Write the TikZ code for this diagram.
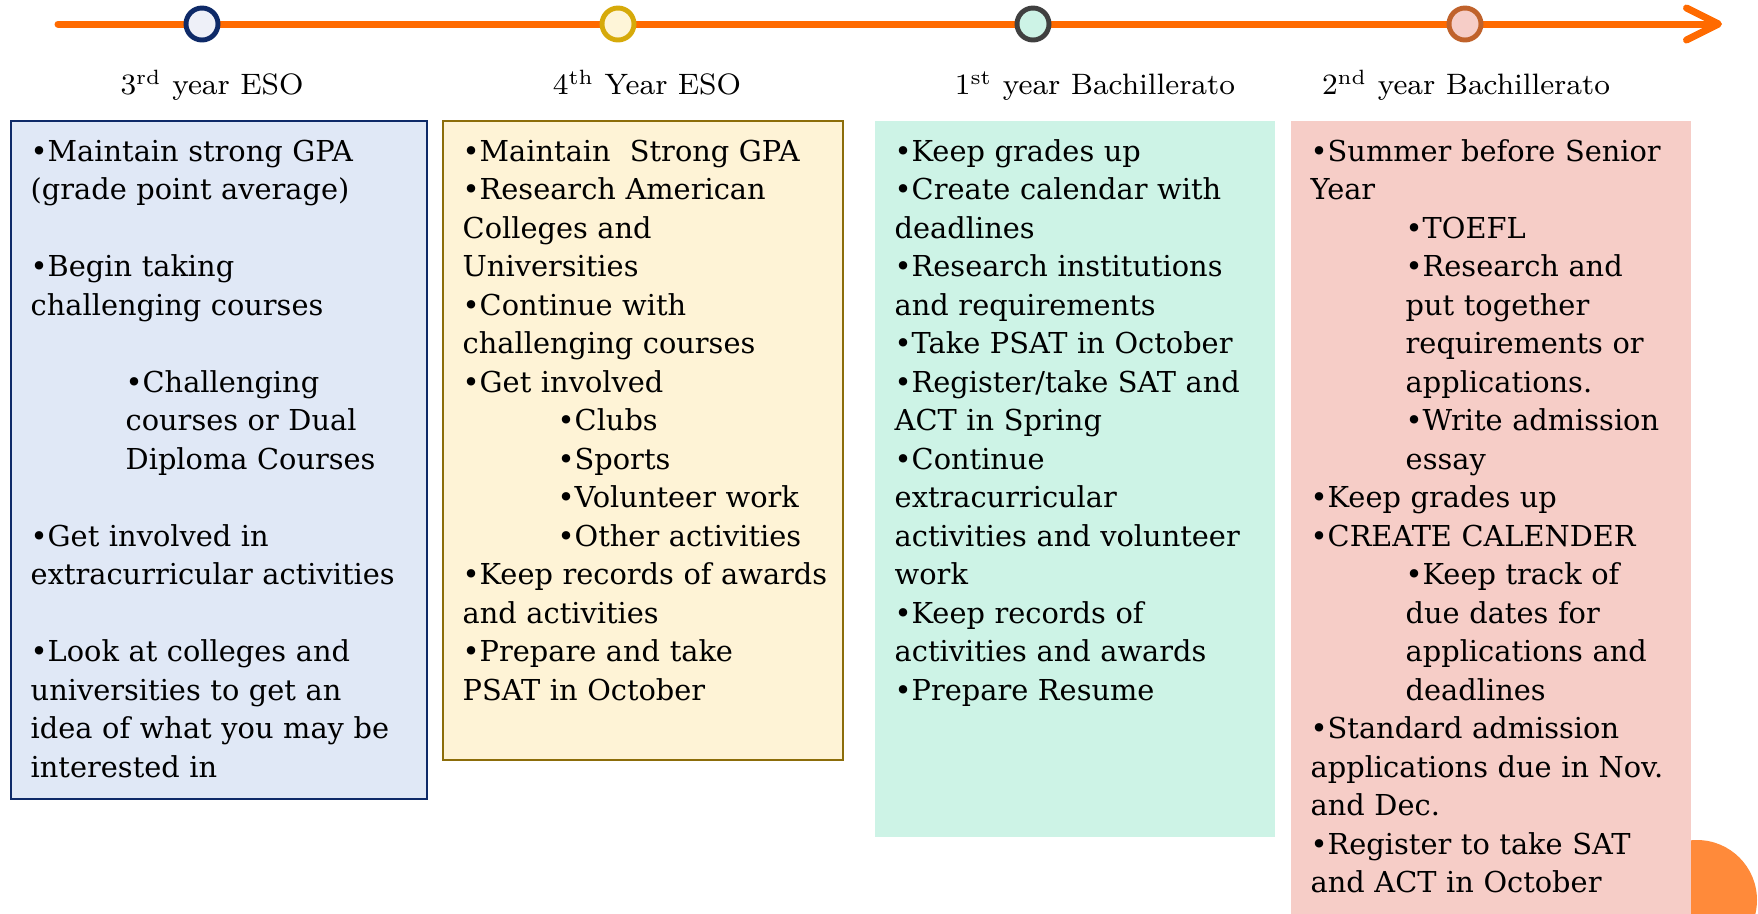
\documentclass[tikz,border=0pt]{standalone}
\usepackage{fontspec}
\newfontfamily\cuerpo{DejaVu Serif}
\usepackage{tikz}
\usetikzlibrary{arrows.meta}

\definecolor{naranja}{HTML}{FF6A00}
\definecolor{mancha}{HTML}{FF8A3A}
\definecolor{azulborde}{HTML}{0E2A68}
\definecolor{azulhito}{HTML}{EEF0F8}
\definecolor{azulcaja}{HTML}{E0E8F6}
\definecolor{oroborde}{HTML}{D6AA0A}
\definecolor{orohito}{HTML}{FEF5D8}
\definecolor{orocaja}{HTML}{FEF3D6}
\definecolor{orolinea}{HTML}{8C6D0A}
\definecolor{grisborde}{HTML}{404040}
\definecolor{mentacaja}{HTML}{CDF3E6}
\definecolor{cobreborde}{HTML}{C0622B}
\definecolor{rosacaja}{HTML}{F6CDC7}

\begin{document}
\begin{tikzpicture}[x=0.1mm, y=-0.1mm,
  linea/.style={line width=0.7mm, naranja, line cap=round,
    -{Straight Barb[length=3.2mm, width=3.2mm, round]}},
  hito/.style={circle, line width=1.4pt, minimum size=3.2mm, inner sep=0pt},
  titulo/.style={anchor=base, inner sep=0pt, font=\fontsize{8.4}{10}\selectfont},
  caja/.style={anchor=north west, inner sep=0pt, line width=0.6pt},
  lista/.style={anchor=base west, inner sep=0pt, text width=38mm, align=left,
    font=\cuerpo\fontsize{8.2}{10.96}\selectfont}]
  \useasboundingbox (0,0) rectangle (1758,913);

  % Mancha naranja (esquina)
  \begin{scope}
    \clip (0,0) rectangle (1758,913);
    \fill[mancha] (1697,900) circle (60);
  \end{scope}

  % Cajas
  \node[caja, draw=azulborde, fill=azulcaja, minimum width=41.6mm, minimum height=67.8mm] (caja1) at (10,120) {};
  \node[caja, draw=orolinea, fill=orocaja, minimum width=40mm, minimum height=63.9mm] (caja2) at (442,120) {};
  \node[caja, fill=mentacaja, minimum width=40mm, minimum height=71.6mm] (caja3) at (874,120) {};
  \node[caja, fill=rosacaja, minimum width=40mm, minimum height=79.3mm] (caja4) at (1290,120) {};

  % Linea de tiempo
  \coordinate (ini) at (58,24);
  \coordinate (fin) at (1722,24);
  \draw[linea] (ini) -- (fin);

  % Hitos
  \node[hito, draw=azulborde, fill=azulhito] (hito1) at (202,24) {};
  \node[hito, draw=oroborde, fill=orohito] (hito2) at (618,24) {};
  \node[hito, draw=grisborde, fill=mentacaja] (hito3) at (1033,24) {};
  \node[hito, draw=cobreborde, fill=rosacaja] (hito4) at (1465,24) {};

  % Titulos
  \node[titulo] (titulo1) at (212,94) {3\textsuperscript{rd} year ESO};
  \node[titulo] (titulo2) at (647,94) {4\textsuperscript{th} Year ESO};
  \node[titulo] (titulo3) at (1095,94) {1\textsuperscript{st} year Bachillerato};
  \node[titulo] (titulo4) at (1466,94) {2\textsuperscript{nd} year Bachillerato};

  % Textos
  \node[lista] (lista1) at (30,161) {%
    •Maintain strong GPA\\
    (grade point average)\\
    \mbox{}\\
    •Begin taking\\
    challenging courses\\
    \mbox{}\\
    \hspace*{9.5mm}•Challenging\\
    \hspace*{9.5mm}courses or Dual\\
    \hspace*{9.5mm}Diploma Courses\\
    \mbox{}\\
    •Get involved in\\
    extracurricular activities\\
    \mbox{}\\
    •Look at colleges and\\
    universities to get an\\
    idea of what you may be\\
    interested in};
  \node[lista] (lista2) at (462,161) {%
    •Maintain\ \ Strong GPA\\
    •Research American\\
    Colleges and\\
    Universities\\
    •Continue with\\
    challenging courses\\
    •Get involved\\
    \hspace*{9.5mm}•Clubs\\
    \hspace*{9.5mm}•Sports\\
    \hspace*{9.5mm}•Volunteer work\\
    \hspace*{9.5mm}•Other activities\\
    •Keep records of awards\\
    and activities\\
    •Prepare and take\\
    PSAT in October};
  \node[lista] (lista3) at (894,161) {%
    •Keep grades up\\
    •Create calendar with\\
    deadlines\\
    •Research institutions\\
    and requirements\\
    •Take PSAT in October\\
    •Register/take SAT and\\
    ACT in Spring\\
    •Continue\\
    extracurricular\\
    activities and volunteer\\
    work\\
    •Keep records of\\
    activities and awards\\
    •Prepare Resume};
  \node[lista] (lista4) at (1310,161) {%
    •Summer before Senior\\
    Year\\
    \hspace*{9.5mm}•TOEFL\\
    \hspace*{9.5mm}•Research and\\
    \hspace*{9.5mm}put together\\
    \hspace*{9.5mm}requirements or\\
    \hspace*{9.5mm}applications.\\
    \hspace*{9.5mm}•Write admission\\
    \hspace*{9.5mm}essay\\
    •Keep grades up\\
    •CREATE CALENDER\\
    \hspace*{9.5mm}•Keep track of\\
    \hspace*{9.5mm}due dates for\\
    \hspace*{9.5mm}applications and\\
    \hspace*{9.5mm}deadlines\\
    •Standard admission\\
    applications due in Nov.\\
    and Dec.\\
    •Register to take SAT\\
    and ACT in October};
\end{tikzpicture}
\end{document}
